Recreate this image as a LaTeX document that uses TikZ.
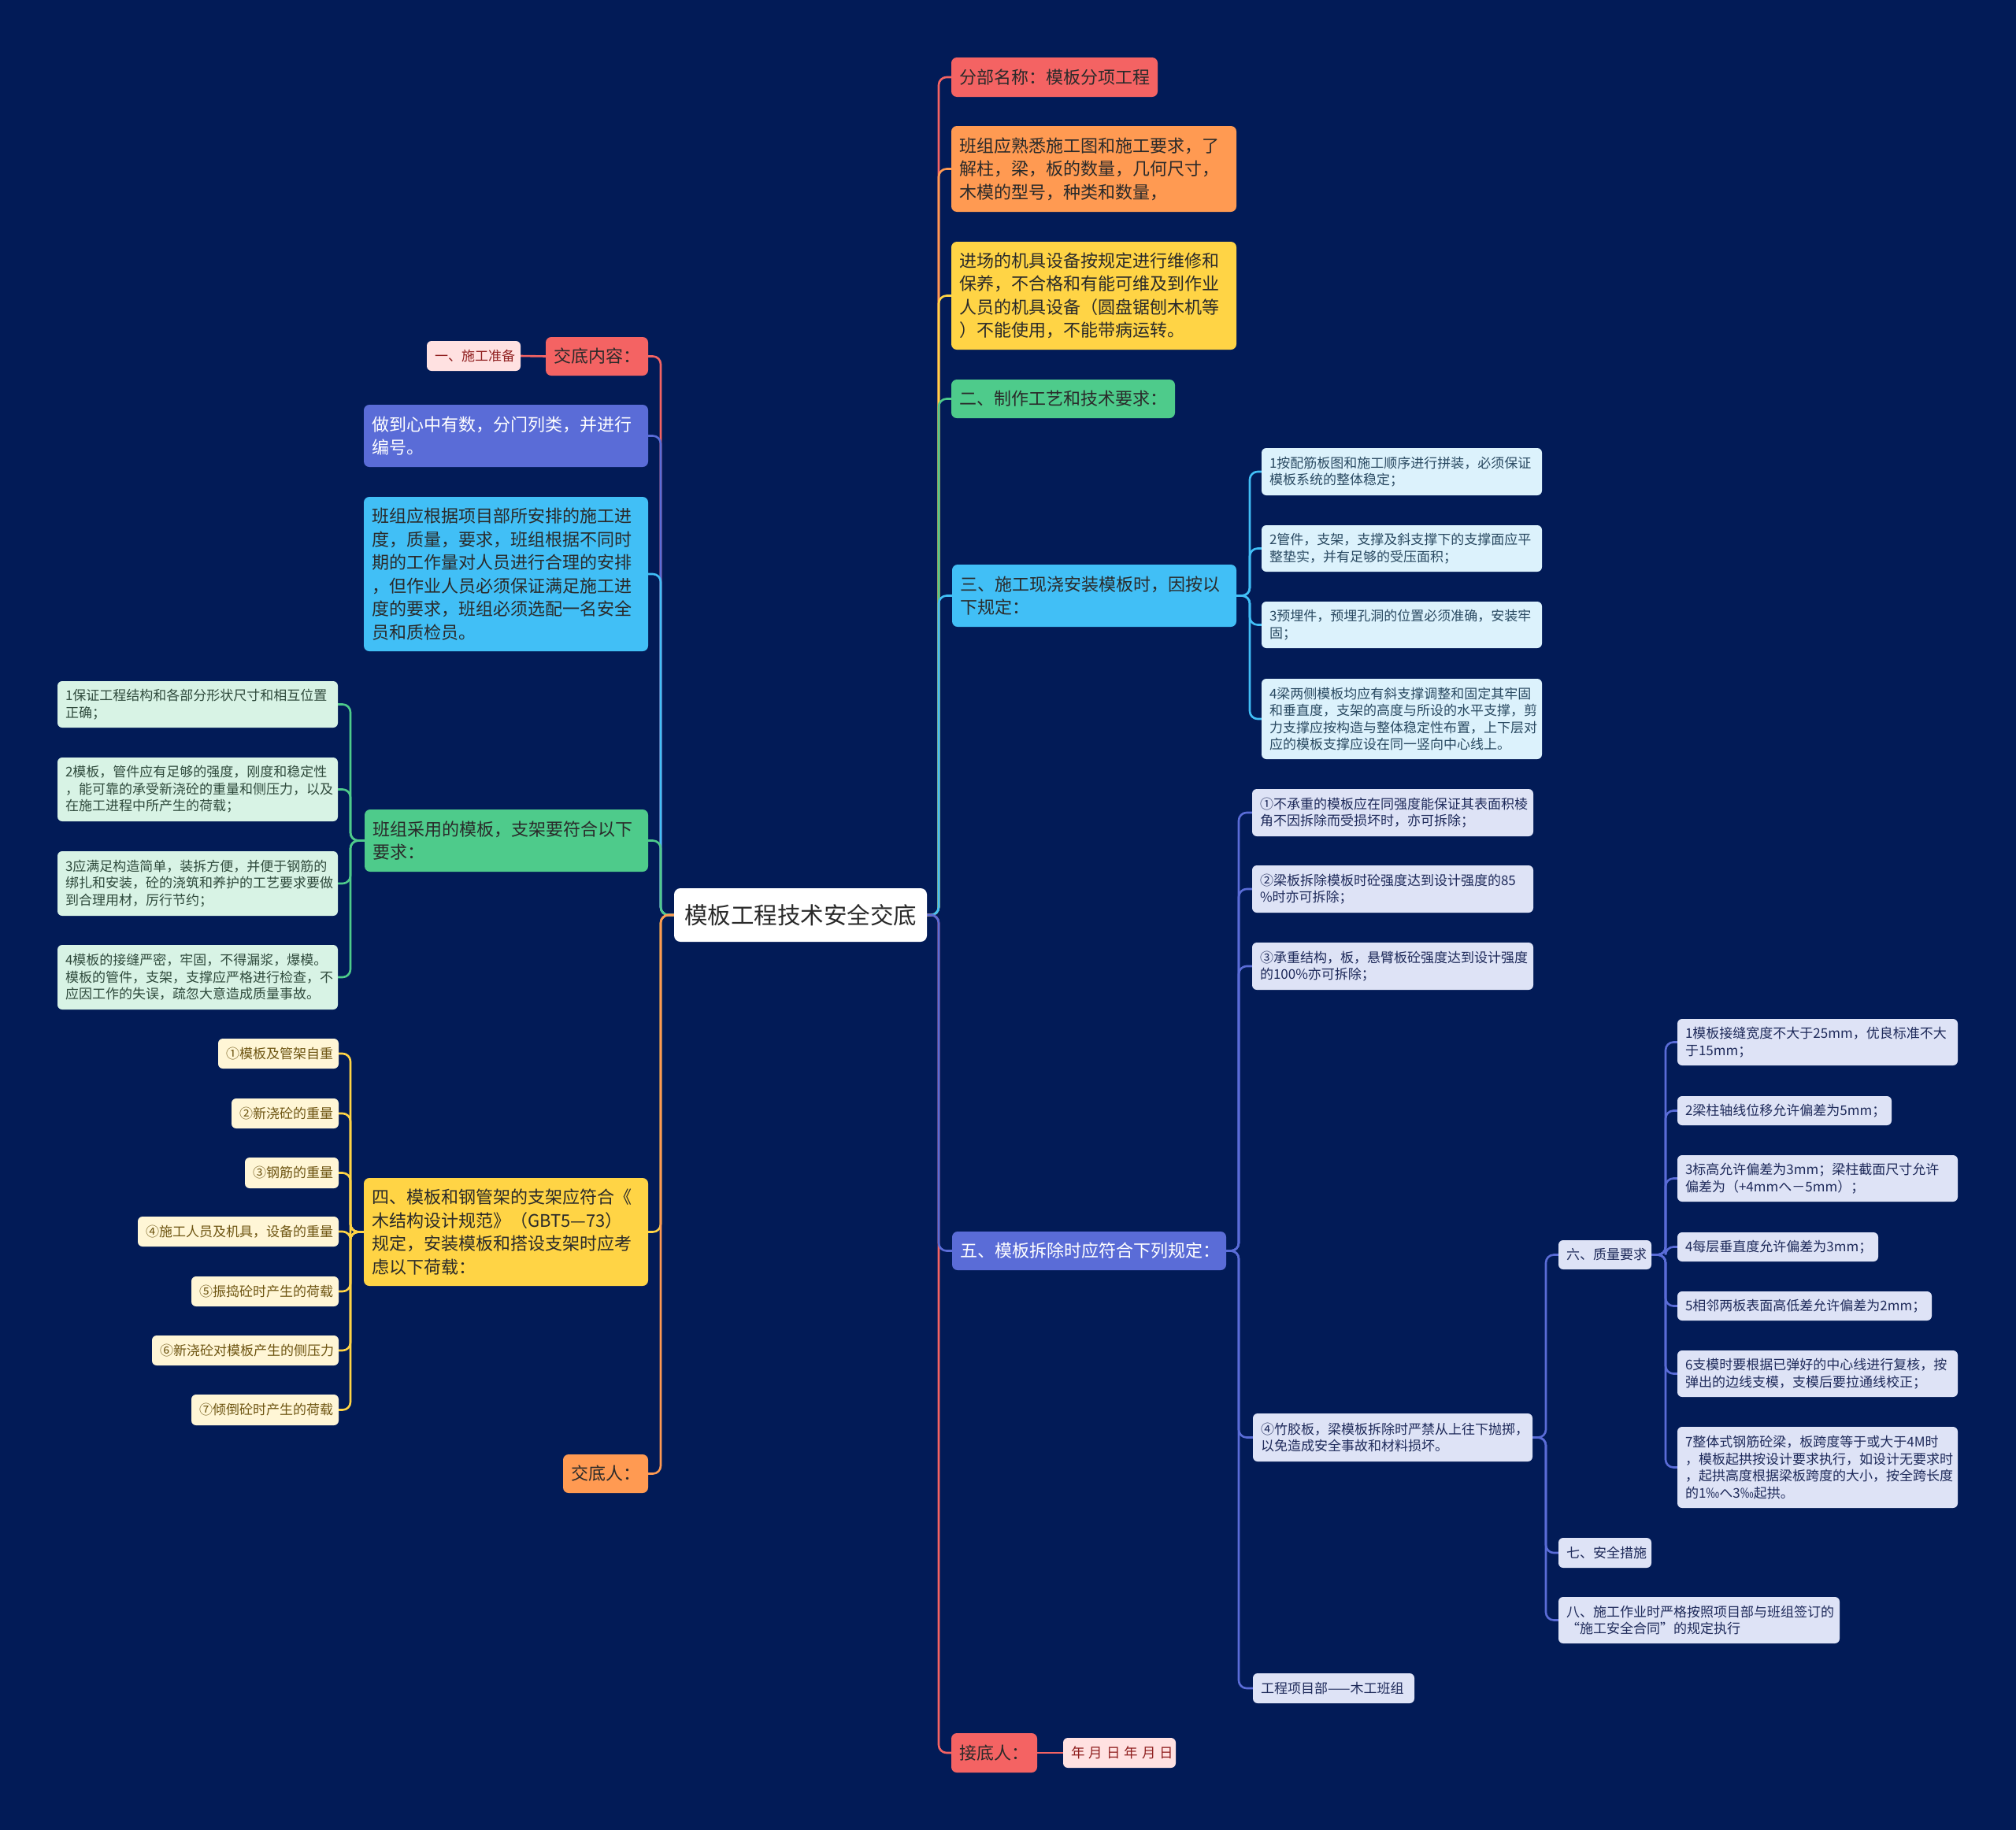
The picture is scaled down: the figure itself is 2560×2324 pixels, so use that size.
\documentclass[tikz,border=0pt]{standalone}
\usepackage{fontspec}
\setmainfont{Noto Sans CJK SC}
\pgfdeclarelayer{bg}\pgfdeclarelayer{edges}
\pgfsetlayers{bg,edges,main}
\definecolor{bgc}{HTML}{021B57}
\definecolor{cRed}{HTML}{F46363}
\definecolor{cOrg}{HTML}{FF9A52}
\definecolor{cYel}{HTML}{FFD445}
\definecolor{cGrn}{HTML}{4ECB8B}
\definecolor{cLbl}{HTML}{41BFF6}
\definecolor{cPur}{HTML}{5A6CD7}
\definecolor{fPink}{HTML}{FFE1E1}
\definecolor{fGrn}{HTML}{D8F3E5}
\definecolor{fCrm}{HTML}{FFF6D6}
\definecolor{fLbl}{HTML}{DCF2FC}
\definecolor{fLav}{HTML}{DEE3F6}
\definecolor{tPink}{HTML}{8F1F1F}
\definecolor{tGrn}{HTML}{2F4A3C}
\definecolor{tCrm}{HTML}{6E5512}
\definecolor{tLbl}{HTML}{294961}
\definecolor{tLav}{HTML}{1E2A5A}
\definecolor{dk}{HTML}{2A2A2A}
\tikzset{
  lvone/.style={fill=#1, rounded corners=7pt, text=dk, font=\fontsize{22}{29.5}\selectfont},
  lvonew/.style={lvone=#1, text=white},
  lvtwo/.style 2 args={fill=#1, text=#2, rounded corners=6pt, font=\fontsize{17}{21.5}\selectfont},
  edg/.style={draw=#1, line width=2.6pt, rounded corners=10pt},
}
\newcommand\bx[7]{%
  \pgfmathsetmacro\bxw{#4-#2}%
  \pgfmathsetmacro\bxh{#5-#3}%
  \pgfmathsetmacro\bxt{#4-#2-20}%
  \node[#6, anchor=north west, minimum width=\bxw pt, minimum height=\bxh pt,
        text width=\bxt pt, inner xsep=10pt, inner ysep=0pt, outer sep=0pt, align=left]
        (#1) at (#2,#3) {#7};}
\begin{document}
\begin{tikzpicture}[x=1pt,y=-1pt]
\begin{pgfonlayer}{bg}
\fill[bgc] (0,0) rectangle (2560,2324);
\end{pgfonlayer}
\useasboundingbox (0,0) rectangle (2560,2324);

% centre
\node[fill=white, rounded corners=8pt, minimum width=321pt, minimum height=68pt, inner sep=0pt, outer sep=0pt,
      text=dk, font=\fontsize{29.5}{34}\selectfont] (ctr) at (1016.5,1162) {模板工程技术安全交底};

% left side
\bx{jd}{693}{428}{823}{477}{lvone=cRed}{交底内容：}
\bx{sg}{542}{433}{661}{471}{lvtwo={fPink}{tPink}}{一、施工准备}
\bx{la}{462}{514}{823}{593}{lvonew=cPur}{做到心中有数，分门列类，并进行\\编号。}
\bx{lb}{462}{631}{823}{827}{lvone=cLbl}{班组应根据项目部所安排的施工进\\度，质量，要求，班组根据不同时\\期的工作量对人员进行合理的安排\\，但作业人员必须保证满足施工进\\度的要求，班组必须选配一名安全\\员和质检员。}
\bx{lc}{463}{1028}{823}{1107}{lvone=cGrn}{班组采用的模板，支架要符合以下\\要求：}
\bx{ga}{73}{865}{429}{924}{lvtwo={fGrn}{tGrn}}{1保证工程结构和各部分形状尺寸和相互位置\\正确；}
\bx{gb}{73}{962}{429}{1043}{lvtwo={fGrn}{tGrn}}{2模板，管件应有足够的强度，刚度和稳定性\\，能可靠的承受新浇砼的重量和侧压力，以及\\在施工进程中所产生的荷载；}
\bx{gc}{73}{1081}{429}{1163}{lvtwo={fGrn}{tGrn}}{3应满足构造简单，装拆方便，并便于钢筋的\\绑扎和安装，砼的浇筑和养护的工艺要求要做\\到合理用材，厉行节约；}
\bx{gd}{73}{1200}{429}{1282}{lvtwo={fGrn}{tGrn}}{4模板的接缝严密，牢固，不得漏浆，爆模。\\模板的管件，支架，支撑应严格进行检查，不\\应因工作的失误，疏忽大意造成质量事故。}
\bx{ld}{462}{1496}{823}{1633}{lvone=cYel}{四、模板和钢管架的支架应符合《\\木结构设计规范》（GBT5—73）\\规定，安装模板和搭设支架时应考\\虑以下荷载：}
\bx{ya}{277}{1319}{430}{1357}{lvtwo={fCrm}{tCrm}}{①模板及管架自重}
\bx{yb}{294}{1395}{430}{1433}{lvtwo={fCrm}{tCrm}}{②新浇砼的重量}
\bx{yc}{311}{1470}{430}{1509}{lvtwo={fCrm}{tCrm}}{③钢筋的重量}
\bx{yd}{175}{1545}{430}{1583}{lvtwo={fCrm}{tCrm}}{④施工人员及机具，设备的重量}
\bx{ye}{243}{1621}{430}{1659}{lvtwo={fCrm}{tCrm}}{⑤振捣砼时产生的荷载}
\bx{yf}{193}{1696}{430}{1734}{lvtwo={fCrm}{tCrm}}{⑥新浇砼对模板产生的侧压力}
\bx{yg}{243}{1771}{430}{1810}{lvtwo={fCrm}{tCrm}}{⑦倾倒砼时产生的荷载}
\bx{le}{715}{1847}{823}{1896}{lvone=cOrg}{交底人：}

% right side
\bx{ra}{1208}{73}{1470}{123}{lvone=cRed}{分部名称：模板分项工程}
\bx{rb}{1208}{160}{1570}{269}{lvone=cOrg}{班组应熟悉施工图和施工要求，了\\解柱，梁，板的数量，几何尺寸，\\木模的型号，种类和数量，}
\bx{rc}{1208}{307}{1570}{444}{lvone=cYel}{进场的机具设备按规定进行维修和\\保养，不合格和有能可维及到作业\\人员的机具设备（圆盘锯刨木机等\\）不能使用，不能带病运转。}
\bx{rd}{1208}{482}{1492}{531}{lvone=cGrn}{二、制作工艺和技术要求：}
\bx{re}{1209}{717}{1570}{796}{lvone=cLbl}{三、施工现浇安装模板时，因按以\\下规定：}
\bx{ba}{1602}{569}{1958}{629}{lvtwo={fLbl}{tLbl}}{1按配筋板图和施工顺序进行拼装，必须保证\\模板系统的整体稳定；}
\bx{bb}{1602}{667}{1958}{726}{lvtwo={fLbl}{tLbl}}{2管件，支架，支撑及斜支撑下的支撑面应平\\整垫实，并有足够的受压面积；}
\bx{bc}{1602}{764}{1958}{823}{lvtwo={fLbl}{tLbl}}{3预埋件，预埋孔洞的位置必须准确，安装牢\\固；}
\bx{bd}{1602}{862}{1958}{964}{lvtwo={fLbl}{tLbl}}{4梁两侧模板均应有斜支撑调整和固定其牢固\\和垂直度，支架的高度与所设的水平支撑，剪\\力支撑应按构造与整体稳定性布置，上下层对\\应的模板支撑应设在同一竖向中心线上。}
\bx{rf}{1209}{1564}{1557}{1613}{lvonew=cPur}{五、模板拆除时应符合下列规定：}
\bx{pa}{1590}{1002}{1947}{1062}{lvtwo={fLav}{tLav}}{①不承重的模板应在同强度能保证其表面积棱\\角不因拆除而受损坏时，亦可拆除；}
\bx{pb}{1590}{1099}{1947}{1159}{lvtwo={fLav}{tLav}}{②梁板拆除模板时砼强度达到设计强度的85\\\%时亦可拆除；}
\bx{pc}{1590}{1197}{1947}{1257}{lvtwo={fLav}{tLav}}{③承重结构，板，悬臂板砼强度达到设计强度\\的100\%亦可拆除；}
\bx{pd}{1591}{1795}{1946}{1856}{lvtwo={fLav}{tLav}}{④竹胶板，梁模板拆除时严禁从上往下抛掷，\\以免造成安全事故和材料损坏。}
\bx{qa}{1979}{1575}{2097}{1612}{lvtwo={fLav}{tLav}}{六、质量要求}
\bx{sa}{2130}{1294}{2486}{1353}{lvtwo={fLav}{tLav}}{1模板接缝宽度不大于25mm，优良标准不大\\于15mm；}
\bx{sb}{2130}{1392}{2402}{1429}{lvtwo={fLav}{tLav}}{2梁柱轴线位移允许偏差为5mm；}
\bx{sc}{2130}{1467}{2486}{1526}{lvtwo={fLav}{tLav}}{3标高允许偏差为3mm；梁柱截面尺寸允许\\偏差为（+4mmへ－5mm）；}
\bx{sd}{2130}{1565}{2385}{1602}{lvtwo={fLav}{tLav}}{4每层垂直度允许偏差为3mm；}
\bx{se}{2130}{1640}{2453}{1677}{lvtwo={fLav}{tLav}}{5相邻两板表面高低差允许偏差为2mm；}
\bx{sf}{2130}{1715}{2486}{1774}{lvtwo={fLav}{tLav}}{6支模时要根据已弹好的中心线进行复核，按\\弹出的边线支模，支模后要拉通线校正；}
\bx{sg7}{2130}{1812}{2486}{1915}{lvtwo={fLav}{tLav}}{7整体式钢筋砼梁，板跨度等于或大于4M时\\，模板起拱按设计要求执行，如设计无要求时\\，起拱高度根据梁板跨度的大小，按全跨长度\\的1‰へ3‰起拱。}
\bx{qb}{1979}{1953}{2097}{1991}{lvtwo={fLav}{tLav}}{七、安全措施}
\bx{qc}{1979}{2028}{2336}{2087}{lvtwo={fLav}{tLav}}{八、施工作业时严格按照项目部与班组签订的\\“施工安全合同”的规定执行}
\bx{pe}{1591}{2125}{1796}{2163}{lvtwo={fLav}{tLav}}{工程项目部——木工班组}
\bx{rg}{1208}{2201}{1317}{2251}{lvone=cRed}{接底人：}
\bx{dt}{1350}{2207}{1493}{2245}{lvtwo={fPink}{tPink}, font=\fontsize{17.5}{21.5}\selectfont}{\mbox{年\hspace{5pt}月\hspace{5pt}日\hspace{5pt}年\hspace{5pt}月\hspace{5pt}日}}

\begin{pgfonlayer}{edges}
% left trunk
\draw[edg=cRed] (ctr.west) -- ++(-17,0) |- (jd.east);
\draw[edg=cPur] (ctr.west) -- ++(-17,0) |- (la.east);
\draw[edg=cLbl] (ctr.west) -- ++(-17,0) |- (lb.east);
\draw[edg=cGrn] (ctr.west) -- ++(-17,0) |- (lc.east);
\draw[edg=cYel] (ctr.west) -- ++(-17,0) |- (ld.east);
\draw[edg=cOrg] (ctr.west) -- ++(-17,0) |- (le.east);
\draw[edg=cRed] (jd.west) -- (sg.east);
\foreach \c in {ga,gb,gc,gd}{\draw[edg=cGrn] (lc.west) -- ++(-18,0) |- (\c.east);}
\foreach \c in {ya,yb,yc,yd,ye,yf,yg}{\draw[edg=cYel] (ld.west) -- ++(-17,0) |- (\c.east);}
% right trunk
\draw[edg=cRed] (ctr.east) -- ++(15,0) |- (ra.west);
\draw[edg=cOrg] (ctr.east) -- ++(15,0) |- (rb.west);
\draw[edg=cYel] (ctr.east) -- ++(15,0) |- (rc.west);
\draw[edg=cGrn] (ctr.east) -- ++(15,0) |- (rd.west);
\draw[edg=cLbl] (ctr.east) -- ++(15,0) |- (re.west);
\draw[edg=cRed] (ctr.east) -- ++(15,0) |- (rg.west);
\draw[edg=cPur] (ctr.east) -- ++(15,0) |- (rf.west);
\draw[edg=cRed] (rg.east) -- (dt.west);
\foreach \c in {ba,bb,bc,bd}{\draw[edg=cLbl] (re.east) -- ++(17,0) |- (\c.west);}
\foreach \c in {pa,pb,pc,pd,pe}{\draw[edg=cPur] (rf.east) -- ++(16,0) |- (\c.west);}
\foreach \c in {qa,qb,qc}{\draw[edg=cPur] (pd.east) -- ++(17,0) |- (\c.west);}
\foreach \c in {sa,sb,sc,sd,se,sf,sg7}{\draw[edg=cPur] (qa.east) -- ++(18,0) |- (\c.west);}
\end{pgfonlayer}
\end{tikzpicture}
\end{document}
